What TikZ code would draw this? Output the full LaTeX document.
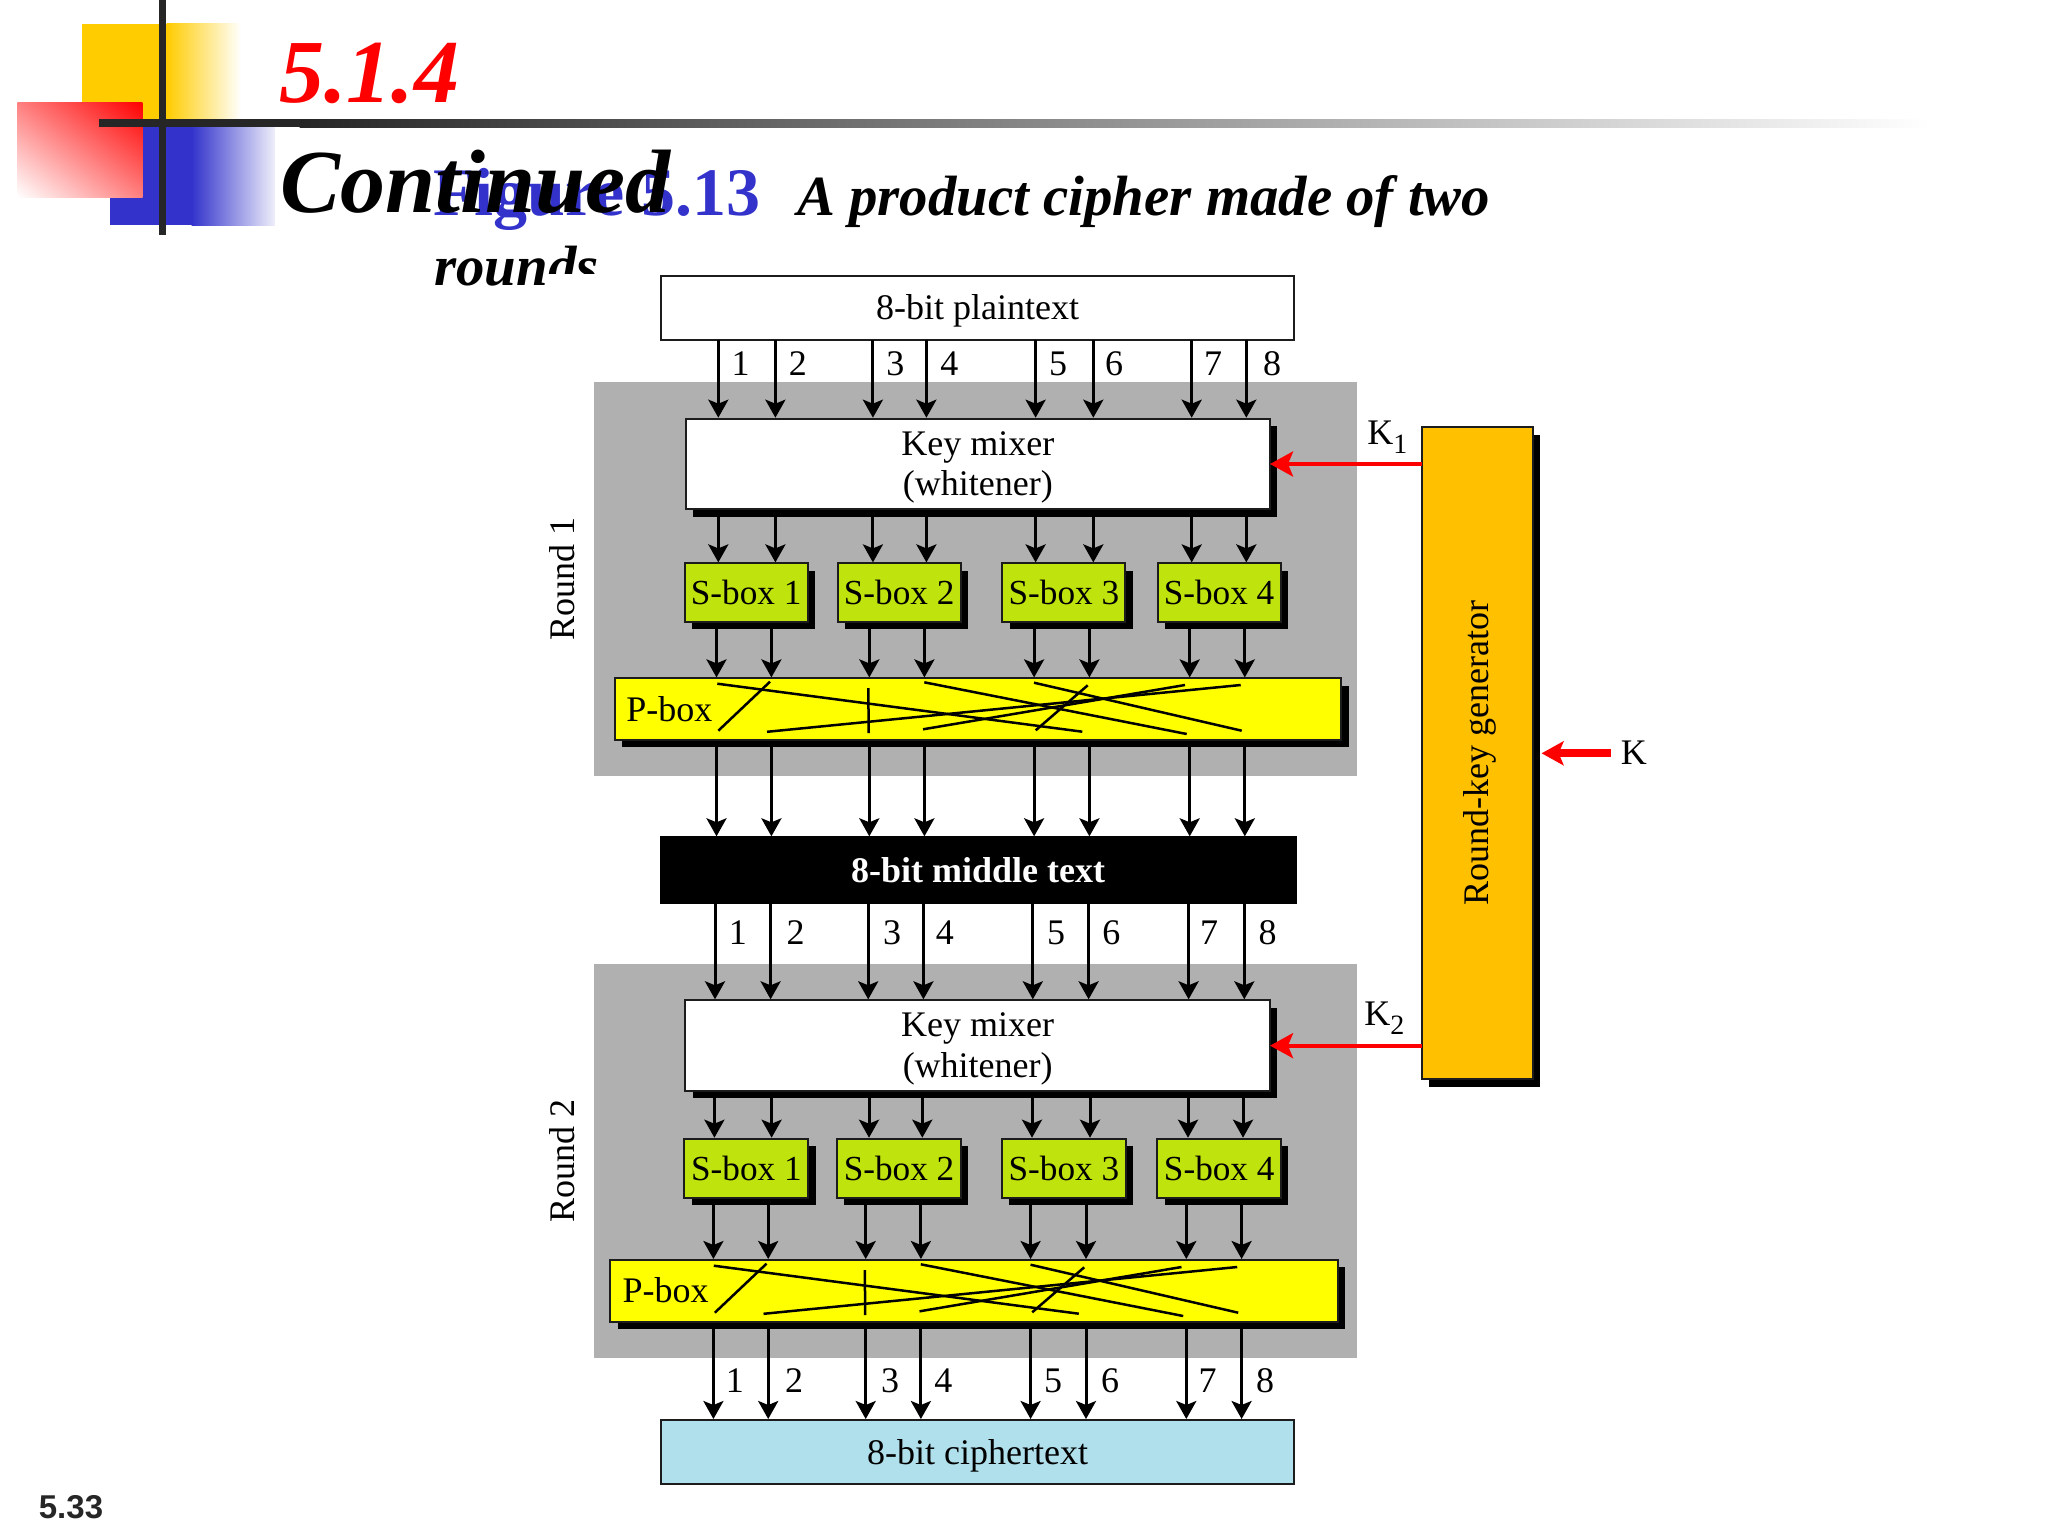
\documentclass[tikz,border=0pt]{standalone}
\usepackage{fontspec}
\setmainfont{Liberation Serif}
\newfontfamily\sansbold{Liberation Sans}
\usetikzlibrary{arrows.meta,shadows}
\definecolor{graybg}{HTML}{B0B0B0}
\definecolor{sgreen}{HTML}{BFE30C}
\definecolor{pyellow}{HTML}{FFFF00}
\definecolor{cipherblue}{HTML}{B0E0EC}
\definecolor{rkorange}{HTML}{FFC000}
\definecolor{deepblue}{HTML}{3333CC}
\definecolor{gold}{HTML}{FFCC00}
\definecolor{barblack}{HTML}{262626}
\definecolor{edge}{HTML}{1C1C1C}
\tikzset{
  bodytext/.style={font=\fontsize{18}{20.2}\selectfont},
  basebox/.style={draw=edge,line width=1pt,inner sep=0pt,outer sep=0pt,bodytext,text height=12pt,text depth=0pt},
  shadowed/.style={general shadow={fill=black,shadow xshift=3.7pt,shadow yshift=-3.7pt}},
  plainbox/.style={basebox,fill=white},
  mixbox/.style={draw=edge,line width=1pt,inner sep=0pt,outer sep=0pt,bodytext,align=center,fill=white,shadowed,text depth=0.7pt},
  sboxstyle/.style={basebox,fill=sgreen,shadowed,font=\fontsize{17.6}{20}\selectfont},
  pboxstyle/.style={basebox,fill=pyellow,shadowed,align=left,inner xsep=5.7pt,text width=351.6pt},
  midbox/.style={basebox,fill=black,draw=black,text=white,font=\fontsize{18}{19.8}\bfseries\selectfont},
  cipherbox/.style={basebox,fill=cipherblue},
  rkbox/.style={draw=edge,line width=1pt,inner sep=0pt,outer sep=0pt,fill=rkorange,shadowed},
  wire/.style={draw=black,line width=1.5pt,-{Stealth[length=9pt,width=10pt,inset=2pt]},shorten >=0.5pt},
  shadowwire/.style={wire,shorten <=3.5pt},
  redwire/.style={draw=red,line width=2pt,-{Stealth[length=11.5pt,width=12.5pt,inset=2.5pt]}},
  keywire/.style={draw=red,line width=4pt,-{Stealth[length=11pt,width=12pt,inset=2.5pt]},shorten >=4.3pt},
  crossline/.style={line width=1.25pt,draw=black},
  digitlabel/.style={bodytext,anchor=base,inner sep=0pt},
  freelabel/.style={bodytext,anchor=base west,inner sep=0pt},
  sidelabel/.style={bodytext,anchor=base,inner sep=0pt,rotate=90},
  titlebi/.style={anchor=base west,inner sep=0pt,font=\fontsize{45}{50}\bfseries\itshape\selectfont},
  subbi/.style={anchor=base west,inner sep=0pt,font=\fontsize{28.4}{32}\bfseries\itshape\selectfont},
}
\newcommand{\pxbox}[7][]{%
  \pgfmathsetmacro\pxw{(#5-#3)*0.5}%
  \pgfmathsetmacro\pxh{(#6-#4)*0.5}%
  \pgfmathsetmacro\pxcx{(#5+#3)*0.5}%
  \pgfmathsetmacro\pxcy{(#6+#4)*0.5}%
  \node[#1,minimum width=\pxw pt,minimum height=\pxh pt] (#2) at (\pxcx,\pxcy) {#7};}
\newcommand{\subdigit}[1]{\raisebox{-4.5pt}{\fontsize{14}{14}\selectfont #1}}
\newcommand{\crosslines}{%
  \draw[crossline] (717.3,683.7) -- (1082.3,731.7);
  \draw[crossline] (770,681.7) -- (718.3,730.7);
  \draw[crossline] (868.3,688) -- (868.7,733);
  \draw[crossline] (767,731.8) -- (1240.7,685);
  \draw[crossline] (923,729.3) -- (1185,685);
  \draw[crossline] (924.3,682.3) -- (1186.7,734);
  \draw[crossline] (1034,682.7) -- (1241.7,730.7);
  \draw[crossline] (1087.7,685.3) -- (1035.7,730.3);}
\begin{document}
\begin{tikzpicture}[x=0.5pt,y=-0.5pt]
\useasboundingbox (0,0) rectangle (2048,1536);
% slide decoration
\fill[gold] (82.3,24) rectangle (167,122);
\shade[left color=gold,right color=white] (166.5,24) rectangle (241,122);
\fill[deepblue] (110,120) rectangle (192,225);
\shade[left color=deepblue,right color=white!92!deepblue] (191.5,120) rectangle (275,225);
\begin{scope}
\clip (17.3,102.3) rectangle (142.7,197);
\shade[transform canvas={rotate around={52.9:(80,149.65)}},left color=white,right color=red,middle color=red!50!white] (4.4,29.65) rectangle (155.6,269.65);
\end{scope}
\fill[barblack] (159.3,0) rectangle (166,235);
\fill[barblack] (99,119) rectangle (300,127);
\shade[left color=barblack,right color=white] (299.5,119) rectangle (1930,127);
% titles
\node[anchor=base west,inner sep=0pt,text=deepblue,font=\fontsize{34}{36}\bfseries\selectfont] (figtitle) at (433,215) {Figure 5.13};
\node[titlebi,text=red] (sectitle) at (279,103) {5.1.4};
\node[titlebi,text=black] (contitle) at (280,212) {Continued};
\node[subbi] (captitle) at (797,215) {A product cipher made of two};
\node[subbi] (rndtitle) at (434,285) {rounds};
\fill[white] (548,274) rectangle (650,305);
\node[anchor=base west,inner sep=0pt,text=barblack,font=\sansbold\fontsize{16.5}{18}\bfseries\selectfont] (pagenum) at (38.5,1518) {5.33};
% round backgrounds
\fill[graybg] (594,382) rectangle (1356.5,775.7);
\fill[graybg] (594,964) rectangle (1356.5,1357.5);
\node[sidelabel] (round1) at (574.5,579) {Round 1};
\node[sidelabel] (round2) at (574.5,1161) {Round 2};
% boxes
\pxbox[plainbox]{plain}{661}{275.5}{1294}{339.5}{8-bit plaintext}
\pxbox[mixbox]{mixa}{685.6}{418.7}{1270}{509.3}{Key mixer\\(whitener)}
\pxbox[sboxstyle]{sa1}{684.6}{563.4}{807.6}{622}{S-box 1}
\pxbox[sboxstyle]{sa2}{837.7}{563.4}{960.6}{622}{S-box 2}
\pxbox[sboxstyle]{sa3}{1002.4}{563.4}{1125.4}{622}{S-box 3}
\pxbox[sboxstyle]{sa4}{1157.6}{563.4}{1280.5}{622}{S-box 4}
\pxbox[pboxstyle]{pa}{614.7}{678.4}{1341.2}{739.7}{P-box}
\pxbox[midbox]{mid}{660.7}{837.3}{1295.5}{903}{8-bit middle text}
\pxbox[mixbox]{mixb}{685.4}{1000.3}{1270}{1091}{Key mixer\\(whitener)}
\pxbox[sboxstyle]{sb1}{684.3}{1138.7}{808.4}{1197.7}{S-box 1}
\pxbox[sboxstyle]{sb2}{837}{1138.7}{961}{1197.7}{S-box 2}
\pxbox[sboxstyle]{sb3}{1001.8}{1138.7}{1126}{1197.7}{S-box 3}
\pxbox[sboxstyle]{sb4}{1157.4}{1138.7}{1281}{1197.7}{S-box 4}
\pxbox[pboxstyle]{pb}{610.4}{1260}{1337.8}{1321.7}{P-box}
\pxbox[cipherbox]{cipher}{661}{1420}{1294}{1484}{8-bit ciphertext}
\pxbox[rkbox]{rkg}{1421.7}{427.3}{1533}{1079.3}{}
\node[sidelabel] (rkglabel) at (1488.3,753.3) {Round-key generator};
% P-box permutation lines
\crosslines
\begin{scope}[shift={(-3.5,582)}]
\crosslines
\end{scope}
% bit connectors
\foreach \bx in {718.3,775.4,872.9,926.4,1035.6,1093.3,1191.7,1246.3}
  \draw[wire] (\bx,0 |- plain.south) -- (\bx,0 |- mixa.north);
\foreach \bx/\sb in {718.3/sa1,775.4/sa1,872.9/sa2,926.4/sa2,1035.6/sa3,1093.3/sa3,1191.7/sa4,1246.3/sa4}
  \draw[shadowwire] (\bx,0 |- mixa.south) -- (\bx,0 |- \sb.north);
\foreach \bx/\sb in {716.5/sa1,771.4/sa1,869.3/sa2,924.4/sa2,1034.1/sa3,1089.4/sa3,1189.7/sa4,1244.8/sa4}
  \draw[shadowwire] (\bx,0 |- \sb.south) -- (\bx,0 |- pa.north);
\foreach \bx in {716.5,771.4,869.3,924.4,1034.1,1089.4,1189.7,1244.8}
  \draw[shadowwire] (\bx,0 |- pa.south) -- (\bx,0 |- mid.north);
\foreach \bx in {715,770.6,868.2,923.4,1032.8,1088.6,1188.6,1244.3}
  \draw[wire] (\bx,0 |- mid.south) -- (\bx,0 |- mixb.north);
\foreach \bx/\sb in {714.4/sb1,771.6/sb1,869/sb2,922.3/sb2,1032/sb3,1090/sb3,1188/sb4,1243/sb4}
  \draw[shadowwire] (\bx,0 |- mixb.south) -- (\bx,0 |- \sb.north);
\foreach \bx/\sb in {713.4/sb1,768.2/sb1,865.7/sb2,920.9/sb2,1030.6/sb3,1086/sb3,1186.3/sb4,1241.6/sb4}
  \draw[shadowwire] (\bx,0 |- \sb.south) -- (\bx,0 |- pb.north);
\foreach \bx in {713.4,768.2,865.7,920.9,1030.6,1086,1186.3,1241.6}
  \draw[shadowwire] (\bx,0 |- pb.south) -- (\bx,0 |- cipher.north);
% bit numbers
\foreach \bx/\d in {740.7/1,797.9/2,895.3/3,949.4/4,1058/5,1114/6,1213/7,1272/8}
  \node[digitlabel] (ta\d) at (\bx,375) {\d};
\foreach \bx/\d in {737.8/1,795.5/2,892/3,944.8/4,1056.2/5,1111.4/6,1209/7,1267.7/8}
  \node[digitlabel] (tb\d) at (\bx,944.3) {\d};
\foreach \bx/\d in {734.8/1,794/2,890/3,943.3/4,1053.2/5,1110/6,1207.5/7,1265.2/8}
  \node[digitlabel] (tc\d) at (\bx,1392.3) {\d};
% key inputs
\draw[redwire] (rkg.west |- mixa.east) -- (mixa.east);
\draw[redwire] (rkg.west |- mixb.east) -- (mixb.east);
\node[freelabel] (k1) at (1367,444.3) {K\subdigit{1}};
\node[freelabel] (k2) at (1364,1025.7) {K\subdigit{2}};
\node[freelabel] (kmain) at (1620.5,764.3) {K};
\coordinate (kin) at (1610.7,753.3);
\draw[keywire] (kin) -- (kin -| rkg.east);
\end{tikzpicture}
\end{document}
